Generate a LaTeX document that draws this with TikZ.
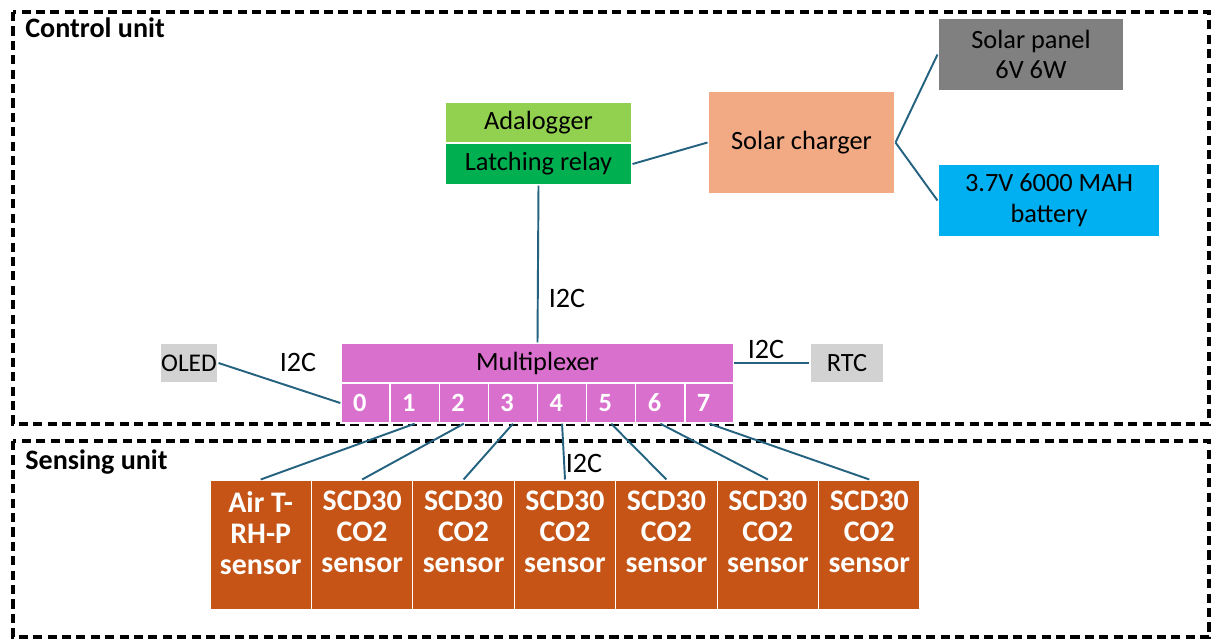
\documentclass[tikz,border=0pt]{standalone}
\usepackage{fontspec}
\setmainfont{Carlito}
\usepackage{xcolor}
\definecolor{adagreen}{RGB}{146,208,80}
\definecolor{relaygreen}{RGB}{0,176,80}
\definecolor{chargerpeach}{RGB}{241,170,132}
\definecolor{panelgray}{RGB}{128,128,128}
\definecolor{battblue}{RGB}{0,176,240}
\definecolor{muxorchid}{RGB}{218,112,206}
\definecolor{modgray}{RGB}{210,210,210}
\definecolor{sensorrust}{RGB}{197,84,22}
\definecolor{wireteal}{RGB}{36,98,128}
\usetikzlibrary{positioning}

\begin{document}
\begin{tikzpicture}[x=0.02cm, y=-0.02cm,
    box/.style={draw=white, line width=0.6pt, fill=#1, inner sep=0pt,
                font=\fontsize{15}{17.5}\selectfont, align=center},
    port/.style={draw=white, line width=0.8pt, fill=muxorchid, inner sep=0pt,
                 minimum width=0.9825cm, minimum height=0.8cm, text width=0.5cm,
                 align=left, text=white, font=\fontsize{15}{17}\selectfont\bfseries},
    sensor/.style={draw=white, line width=0.6pt, fill=sensorrust, inner sep=0pt,
                   minimum width=2.0286cm, minimum height=2.6cm},
    sensortext/.style={text=white, inner sep=0pt, align=center,
                       font=\fontsize{17}{17.6}\selectfont\bfseries},
    unit/.style={draw=black, line width=2.1pt, dash pattern=on 5.2pt off 3pt},
    unitlabel/.style={anchor=west, inner sep=0pt, font=\fontsize{16}{18}\selectfont\bfseries},
    wire/.style={wireteal, line width=1.1pt},
    bus/.style={inner sep=0pt, font=\fontsize{16}{18}\selectfont}]
  \useasboundingbox (0,0) rectangle (1214,640);
  % Dashed unit frames
  \draw[unit] (13,12) rectangle (1209,424);
  \draw[unit] (13,441) rectangle (1209,637);
  \node[unitlabel] (ctrl) at (25,28) {Control unit};
  \node[unitlabel] (sens) at (25,462) {Sensing unit};
  % Logger and power
  \node[box=adagreen, minimum width=3.74cm, minimum height=0.82cm]
        (ada) at (538.5,122.5) {Adalogger};
  \node[box=relaygreen, minimum width=3.74cm, minimum height=0.84cm]
        (relay) at (538.5,164) {Latching relay};
  \node[box=chargerpeach, minimum width=3.74cm, minimum height=2.06cm]
        (charger) at (801.5,142.5) {Solar charger};
  \node[box=panelgray, minimum width=3.72cm, minimum height=1.46cm]
        (panel) at (1031,54.5) {Solar panel\\6V 6W};
  \node[box=battblue, minimum width=4.44cm, minimum height=1.46cm]
        (batt) at (1049,200.5) {3.7V 6000 MAH\\battery};
  \draw[wire] (relay.east) -- (charger.west);
  \draw[wire] (charger.east) -- (panel.west);
  \draw[wire] (charger.east) -- (batt.west);
  % Multiplexer with its ports
  \node[box=muxorchid, minimum width=7.86cm, minimum height=0.8cm]
        (mux) at (537.5,363) {Multiplexer};
  \foreach \i in {0,...,7}
    \node[port] (p\i) at ({341+49.125*(\i+0.5)},403) {\i};
  \node[box=modgray, minimum width=1.16cm, minimum height=0.8cm,
        font=\fontsize{14.5}{16}\selectfont]
        (oled) at (189,363) {OLED};
  \node[box=modgray, minimum width=1.48cm, minimum height=0.8cm]
        (rtc) at (847,363) {RTC};
  \draw[wire] (relay.south) -- (mux.north);
  \draw[wire] (oled.east) -- (p0.west);
  \draw[wire] (mux.east) -- (rtc.west);
  \node[bus] (busa) at (567,298) {I2C};
  \node[bus] (busb) at (298,362) {I2C};
  \node[bus] (busc) at (766,349) {I2C};
  \node[bus] (busd) at (584,463) {I2C};
  % Sensors
  \foreach \i/\lbl in {1/{Air T-\\RH-P}, 2/{SCD30\\CO2}, 3/{SCD30\\CO2},
                       4/{SCD30\\CO2}, 5/{SCD30\\CO2}, 6/{SCD30\\CO2}, 7/{SCD30\\CO2}} {
    \node[sensor] (s\i) at ({210+101.43*(\i-0.5)},545) {};
    \node[sensortext, below=6.5pt of s\i.north] (t\i) {\lbl\\sensor};
    \draw[wire] (p\i.south) -- (s\i.north);
  }
\end{tikzpicture}
\end{document}
